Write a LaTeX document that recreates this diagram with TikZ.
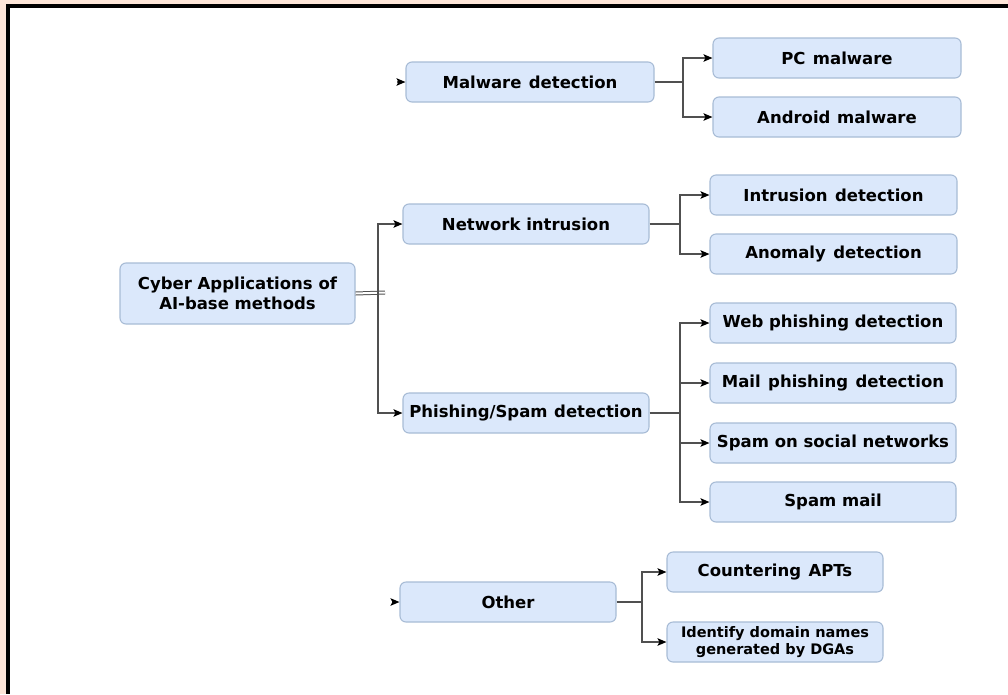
\documentclass[tikz,border=0pt]{standalone}
\usepackage{fontspec}
\setmainfont{DejaVu Sans}
\usetikzlibrary{arrows.meta}
\definecolor{peach}{RGB}{253,229,216}
\definecolor{boxfill}{RGB}{219,232,251}
\definecolor{boxline}{RGB}{168,188,214}
\definecolor{wire}{RGB}{80,80,80}
\tikzset{
  box/.style={draw=boxline, fill=boxfill, line width=1.1pt, rounded corners=6pt,
    minimum height=40pt, inner sep=2pt, align=center,
    font=\fontsize{16.5}{20}\selectfont\bfseries},
  smallbox/.style={box, font=\fontsize{14.5}{17}\selectfont\bfseries},
  link/.style={draw=wire, line width=1.5pt},
  arr/.style={link, -{Stealth[length=9pt,width=7.5pt,inset=2pt,color=black]}}
}
\begin{document}
\begin{tikzpicture}[x=1pt,y=-1pt]
  % page: peach margin, black rule at top and left, white sheet
  \fill[peach] (0,0) rectangle (1008,694);
  \fill[white] (10,8) rectangle (1008,694);
  \fill[black] (6,4) rectangle (1008,8);
  \fill[black] (6,4) rectangle (10,694);
  \useasboundingbox (0,0) rectangle (1008,694);

  % root
  \node[box, minimum width=235pt, minimum height=61pt] (root) at (237.5,293.5)
    {Cyber Applications of\\AI-base methods};

  % first level
  \node[box, minimum width=248pt] (mal) at (530,82) {Malware\hspace{0.45em}detection};
  \node[box, minimum width=246pt] (net) at (526,224) {Network intrusion};
  \node[box, minimum width=246pt] (phi) at (526,413) {Phishing/Spam\hspace{0.4em}detection};
  \node[box, minimum width=216pt] (oth) at (508,602) {Other};

  % second level
  \node[box, minimum width=248pt] (pc)  at (837,58)  {PC\hspace{0.45em}malware};
  \node[box, minimum width=248pt] (and) at (837,117) {Android\hspace{0.4em}malware};
  \node[box, minimum width=247pt] (ids) at (833.5,195) {Intrusion\hspace{0.45em}detection};
  \node[box, minimum width=247pt] (ano) at (833.5,254) {Anomaly\hspace{0.45em}detection};
  \node[box, minimum width=246pt] (web) at (833,323) {Web phishing detection};
  \node[box, minimum width=246pt] (mai) at (833,383) {Mail\hspace{0.45em}phishing\hspace{0.45em}detection};
  \node[box, minimum width=246pt] (soc) at (833,443) {Spam on social networks};
  \node[box, minimum width=246pt] (spm) at (833,502) {Spam mail};
  \node[box, minimum width=216pt] (apt) at (775,572) {Countering\hspace{0.45em}APTs};
  \node[smallbox, minimum width=216pt] (dga) at (775,642)
    {Identify domain names\\generated by DGAs};

  % root trunk
  \coordinate (rj) at (385,292.5);
  \coordinate (tr) at (378,292.5);
  \draw[draw=wire, line width=1pt, double=white, double distance=2pt] (root.east) -- (rj);
  \draw[arr] (tr) |- (net.west);
  \draw[arr] (tr) |- (phi.west);

  % stubs entering the detached branches
  \coordinate (ms) at (397,82);
  \coordinate (os) at (392,602);
  \draw[arr] (ms) -- (mal.west);
  \draw[arr] (os) -- (oth.west);

  % malware branch
  \coordinate (bm) at (683,82);
  \draw[link] (mal.east) -- (bm);
  \draw[arr] (bm) |- (pc.west);
  \draw[arr] (bm) |- (and.west);

  % network branch
  \coordinate (bn) at (680,224);
  \draw[link] (net.east) -- (bn);
  \draw[arr] (bn) |- (ids.west);
  \draw[arr] (bn) |- (ano.west);

  % phishing branch
  \coordinate (bp) at (680,413);
  \draw[link] (phi.east) -- (bp);
  \draw[arr] (bp) |- (web.west);
  \draw[arr] (bp) |- (mai.west);
  \draw[arr] (bp) |- (soc.west);
  \draw[arr] (bp) |- (spm.west);

  % other branch
  \coordinate (bo) at (642,602);
  \draw[link] (oth.east) -- (bo);
  \draw[arr] (bo) |- (apt.west);
  \draw[arr] (bo) |- (dga.west);
\end{tikzpicture}
\end{document}
